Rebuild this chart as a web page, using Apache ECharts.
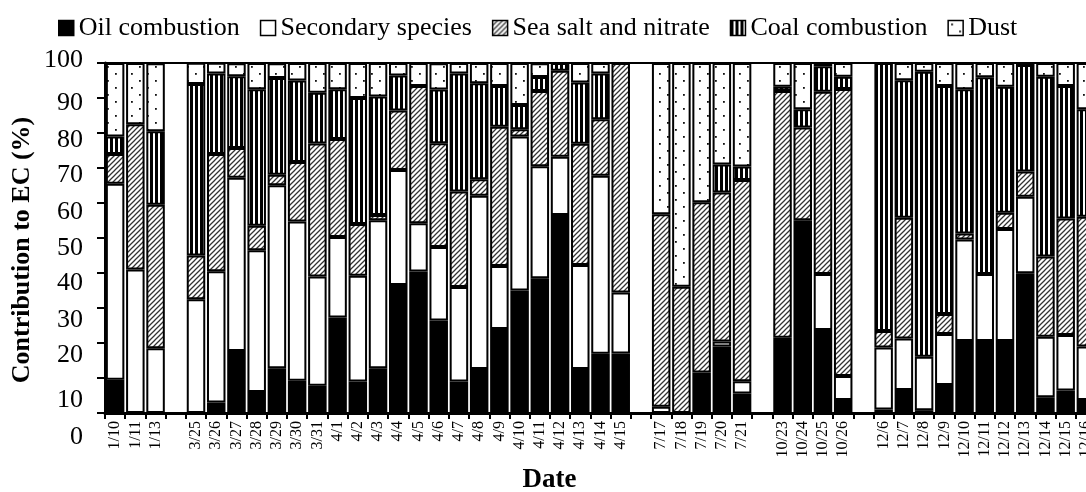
<!DOCTYPE html>
<html><head><meta charset="utf-8">
<script src="https://cdn.jsdelivr.net/npm/echarts@6/dist/echarts.min.js"></script>
<style>html,body{margin:0;padding:0;background:#fff}#c{width:1086px;height:492px}</style>
</head><body><div id="c"></div>
<script>
// ---- data ----
const categories = ['1/10','1/11','1/13','','3/25','3/26','3/27','3/28','3/29','3/30','3/31','4/1','4/2','4/3','4/4','4/5','4/6','4/7','4/8','4/9','4/10','4/11','4/12','4/13','4/14','4/15','','7/17','7/18','7/19','7/20','7/21','','10/23','10/24','10/25','10/26','','12/6','12/7','12/8','12/9','12/10','12/11','12/12','12/13','12/14','12/15','12/16'];
const oilCombustion = [9.5,0,0,null,0,3,17.7,6,12.8,9.2,7.8,27.3,9,12.8,36.6,40.4,26.4,9,12.6,24,35,38.5,56.6,12.6,16.9,17,null,0,0,11.6,19,5.6,null,21.5,55.1,23.7,3.7,null,1,6.6,0.8,8,20.6,20.6,20.6,39.9,4.5,6.4,3.7];
const secondarySpecies = [56,41,18.5,null,32.5,37.5,49.5,40.5,52.3,45.5,31.2,23,30.2,42.3,32.8,13.8,21,27,49.5,18,44,32,16.6,29.7,50.9,17.4,null,1.8,0,0,1.4,3.5,null,0,0,16,6.9,null,17.7,14.7,15.3,14.6,29,19.1,32,21.9,17.3,15.9,15.3];
const seaSaltNitrate = [8.5,41.5,41,null,12.5,33.5,8.5,7,3,17,38,28,14.8,1.5,17,39.2,29.7,27.3,4.7,39.8,2.1,21.5,24.6,34.6,16.1,65.6,null,55,36.1,48.6,42.6,57.5,null,70.5,26.5,52.1,82,null,4.7,34.5,0,5.7,1.7,0,4.6,7.2,22.9,33.3,37.1];
const coalCombustion = [5,0,21,null,49,23,20.5,39,27.6,23.3,14.5,14.2,36,33.8,10,0,15.3,33.7,27.4,11.6,6.9,4,2.2,17.5,13.1,0,null,0,0,0,8,3.8,null,1.2,5.2,7.3,3.5,null,76.6,39.3,81.4,65.1,41.2,56.2,36,30.4,51.4,37.8,30.7];
const dust = [21,17.5,19.4,null,6.1,3.1,3.7,7.5,4.2,5,8.5,7.5,10,9.6,3.6,6.6,7.5,3,5.8,6.6,12,3.9,0,5.6,3,0,null,43.2,63.9,39.8,29,29.6,null,6.8,13.2,0.9,3.9,null,0,4.9,2.5,6.6,7.5,4.1,6.8,0.6,3.9,6.6,13.2];
const seriesNames = ['Oil combustion','Secondary species','Sea salt and nitrate','Coal combustion','Dust'];
const yTickValues = [0,10,20,30,40,50,60,70,80,90,100];

// ---- styles ----
const FONT = 'Liberation Serif';
// vertical shift (px) of each y tick label relative to its tick, as in the reference
const yLabelShift = {0:24,10:22,20:12,30:12,40:10,50:10,60:9,70:7,80:7,90:5,100:-3};

function makePattern(w, h, draw) {
  const c = document.createElement('canvas');
  c.width = w; c.height = h;
  const g = c.getContext('2d');
  g.fillStyle = '#fff'; g.fillRect(0, 0, w, h);
  draw(g);
  return { image: c, repeat: 'repeat' };
}
const hatchFill = makePattern(5, 5, g => {
  g.strokeStyle = '#333'; g.lineWidth = 1.25; g.beginPath();
  g.moveTo(0, 5); g.lineTo(5, 0);
  g.moveTo(-1, 1); g.lineTo(1, -1);
  g.moveTo(4, 6); g.lineTo(6, 4);
  g.stroke();
});
const stripeFill = makePattern(5, 4, g => { g.fillStyle = '#000'; g.fillRect(0, 0, 3, 4); });
const dotFill = makePattern(16, 14, g => { g.fillStyle = '#111'; g.fillRect(3, 3, 1.8, 1.8); g.fillRect(11, 10, 1.8, 1.8); });
const fills = ['#000', '#fff', hatchFill, stripeFill, dotFill];
const seriesData = [oilCombustion, secondarySpecies, seaSaltNitrate, coalCombustion, dust];

const rich = {};
yTickValues.forEach(v => {
  const s = yLabelShift[v] || 0;
  rich['t' + v] = {
    fontFamily: FONT, fontSize: 26, color: '#000',
    padding: s >= 0 ? [2 * s, 0, 0, 0] : [0, 0, -2 * s, 0]
  };
});

const chart = echarts.init(document.getElementById('c'), null, { renderer: 'canvas' });
chart.setOption({
  animation: false,
  backgroundColor: '#fff',
  legend: {
    data: seriesNames,
    left: 53, top: 10,
    itemWidth: 15, itemHeight: 15, itemGap: 20,
    icon: 'rect',
    itemStyle: { borderColor: '#000', borderWidth: 1.5 },
    textStyle: { fontFamily: FONT, fontSize: 26, color: '#000' },
    selectedMode: false
  },
  grid: {
    left: 105, top: 63, width: 991, height: 350,
    show: true, borderColor: '#000', borderWidth: 2,
    containLabel: false, outerBoundsMode: 'none'
  },
  xAxis: {
    type: 'category',
    data: categories,
    axisLine: { show: true, lineStyle: { color: '#000', width: 3 } },
    axisTick: { show: true, interval: 0, length: 6, lineStyle: { color: '#000', width: 2 } },
    axisLabel: { interval: 0, rotate: 90, margin: 8, fontFamily: FONT, fontSize: 16, color: '#000' },
    splitLine: { show: false },
    name: 'Date', nameLocation: 'middle', nameGap: 54, nameMoveOverlap: false,
    nameTextStyle: { fontFamily: FONT, fontSize: 27, fontWeight: 'bold', color: '#000', padding: [0, 102, 0, 0] }
  },
  yAxis: {
    type: 'value', min: 0, max: 100, interval: 10,
    axisLine: { show: true, lineStyle: { color: '#000', width: 3 } },
    axisTick: { show: true, length: 8, lineStyle: { color: '#000', width: 2 } },
    splitLine: { show: false },
    axisLabel: {
      margin: 22, fontFamily: FONT, fontSize: 26, color: '#000',
      formatter: v => '{t' + v + '|' + v + '}',
      rich: rich
    },
    name: 'Contribution to EC (%)', nameLocation: 'middle', nameGap: 70, nameRotate: 90, nameMoveOverlap: false,
    nameTextStyle: { fontFamily: FONT, fontSize: 26, fontWeight: 'bold', color: '#000', padding: [0, 24, 0, 0] }
  },
  series: seriesNames.map((name, i) => ({
    name: name,
    type: 'bar',
    stack: 'total',
    barWidth: 18.5,
    itemStyle: { color: fills[i], borderColor: '#000', borderWidth: 2 },
    emphasis: { disabled: true },
    data: seriesData[i].map(v => (v === 0 ? null : v))
  }))
});
</script></body></html>
